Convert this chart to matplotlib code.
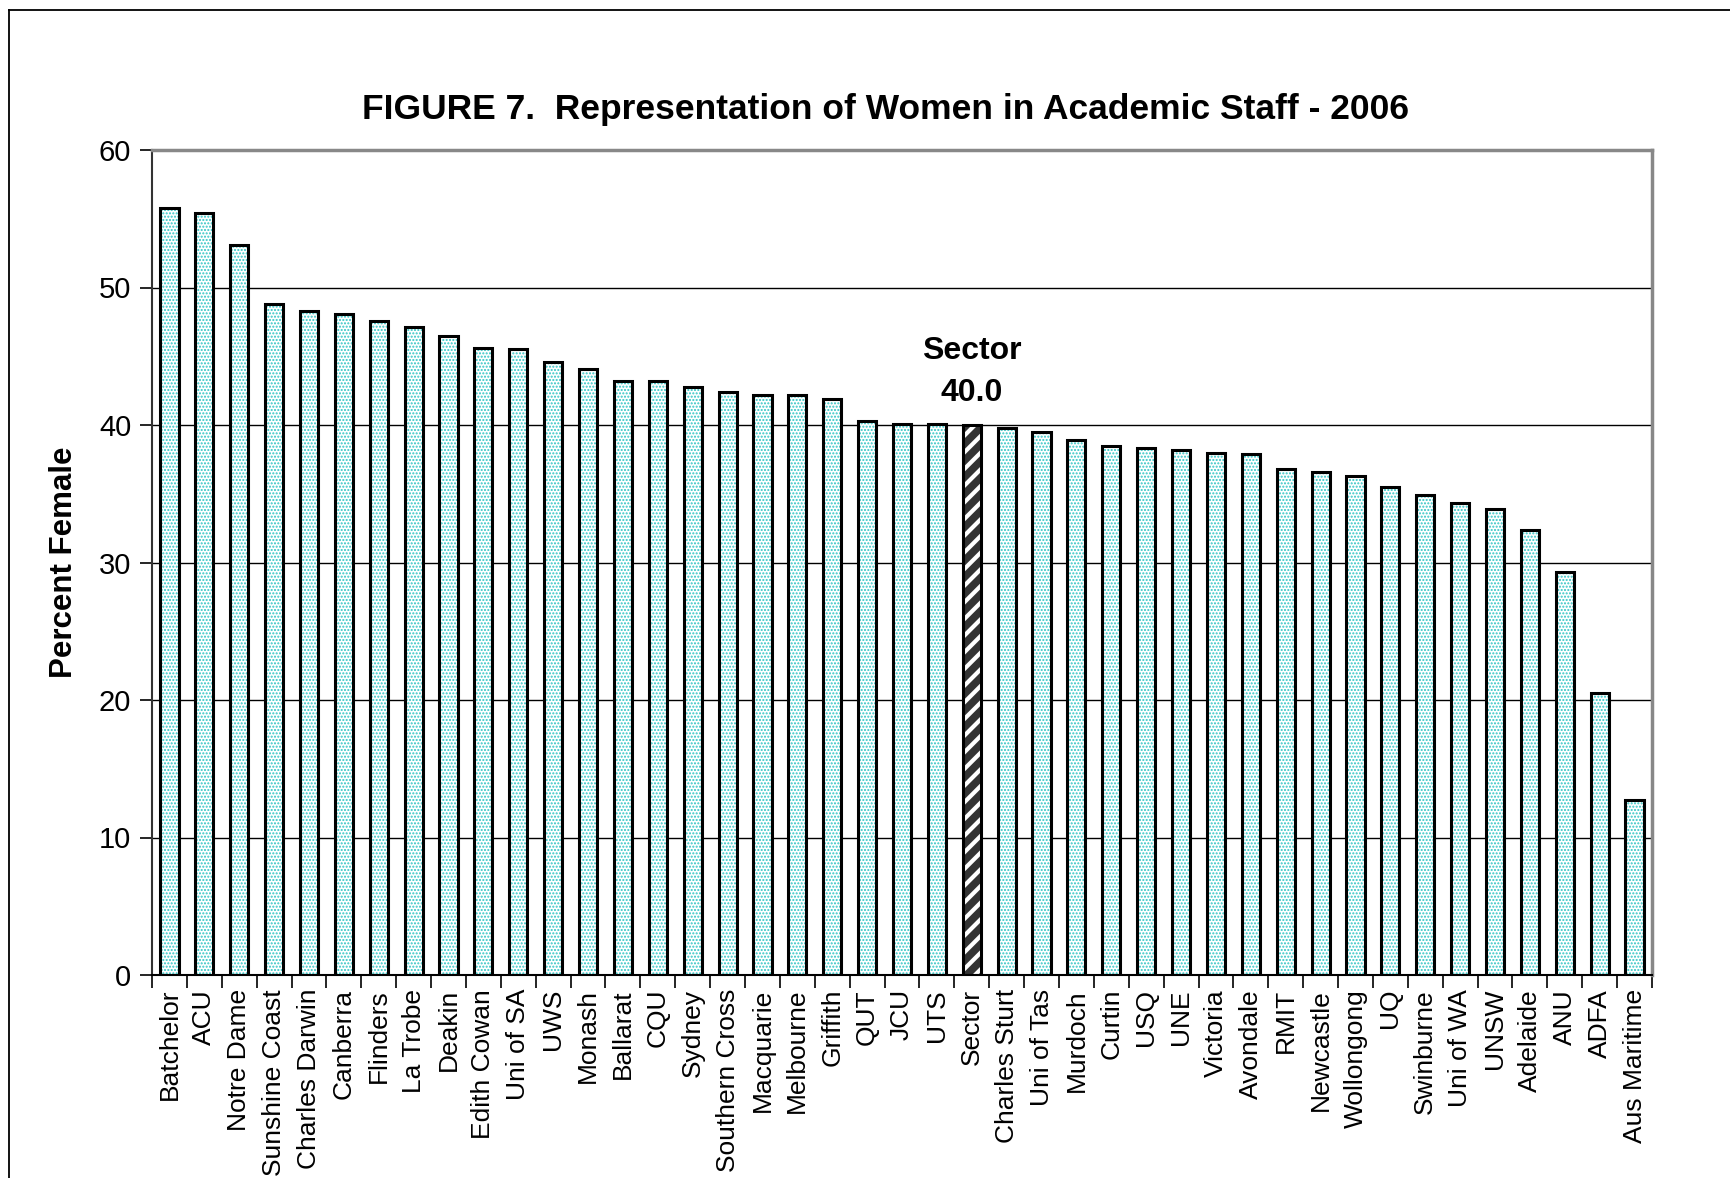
import numpy as np
import matplotlib.pyplot as plt
from matplotlib.lines import Line2D

# valeurs
universities = ["Batchelor", "ACU", "Notre Dame", "Sunshine Coast", "Charles Darwin",
                "Canberra", "Flinders", "La Trobe", "Deakin", "Edith Cowan", "Uni of SA",
                "UWS", "Monash", "Ballarat", "CQU", "Sydney", "Southern Cross", "Macquarie",
                "Melbourne", "Griffith", "QUT", "JCU", "UTS", "Sector", "Charles Sturt",
                "Uni of Tas", "Murdoch", "Curtin", "USQ", "UNE", "Victoria", "Avondale",
                "RMIT", "Newcastle", "Wollongong", "UQ", "Swinburne", "Uni of WA", "UNSW",
                "Adelaide", "ANU", "ADFA", "Aus Maritime"]
pct_female = [55.8, 55.4, 53.1, 48.8, 48.3, 48.1, 47.6, 47.1, 46.5, 45.6, 45.5,
              44.6, 44.1, 43.2, 43.2, 42.8, 42.4, 42.2, 42.2, 41.9, 40.3, 40.1, 40.1,
              40.0, 39.8, 39.5, 38.9, 38.5, 38.3, 38.2, 38.0, 37.9, 36.8, 36.6, 36.3,
              35.5, 34.9, 34.3, 33.9, 32.4, 29.3, 20.5, 12.7]
sector_name = "Sector"
yticks = [0, 10, 20, 30, 40, 50, 60]

plt.rcParams['font.family'] = ['Liberation Sans', 'DejaVu Sans']
plt.rcParams['hatch.linewidth'] = 1.0

fig = plt.figure(figsize=(17.3, 11.78), dpi=100)
ax = fig.add_axes([152 / 1730, 1 - 975 / 1178, 1500 / 1730, 825 / 1178])

x = np.arange(len(universities))
vals = np.array(pct_female)
is_sector = np.array([u == sector_name for u in universities])

ax.set_axisbelow(True)
ax.grid(axis='y', color='black', linewidth=1.0)

# barres pointillées cyan
ax.bar(x[~is_sector], vals[~is_sector], width=0.52, color='white',
       edgecolor='#30c4c4', hatch='.....', linewidth=0, zorder=2)
# barre du secteur, rayée
plt.rcParams['hatch.linewidth'] = 3.0
ax.bar(x[is_sector], vals[is_sector], width=0.52, color='#333333',
       edgecolor='white', hatch='//', linewidth=0, zorder=2)
# contours
ax.bar(x, vals, width=0.52, fill=False, edgecolor='black', linewidth=2.2, zorder=3)

si = int(np.argmax(is_sector))
ax.text(x[si], vals[si] + 1.25, f"Sector\n{vals[si]:.1f}", ha='center', va='bottom',
        fontsize=23, fontweight='bold', linespacing=1.5)

ax.set_xlim(-0.5, len(universities) - 0.5)
ax.set_ylim(0, 60)
ax.set_yticks(yticks)
ax.tick_params(axis='y', labelsize=21, length=9, width=1.2, direction='out', pad=6)
ax.set_xticks(x)
ax.set_xticklabels(universities, rotation=90, fontsize=19)
ax.tick_params(axis='x', length=0, pad=10)
ax.set_xticks(np.arange(len(universities) + 1) - 0.5, minor=True)
ax.tick_params(axis='x', which='minor', length=9, width=1.2, direction='out')

for side in ['top', 'right']:
    ax.spines[side].set_color('#888888')
    ax.spines[side].set_linewidth(2.5)
ax.spines['left'].set_color('#333333')
ax.spines['left'].set_linewidth(1.5)
ax.spines['bottom'].set_color('black')
ax.spines['bottom'].set_linewidth(1.5)

ax.set_ylabel("Percent Female", fontsize=22.5, fontweight='bold', labelpad=14)

fig.text(886 / 1730, 1 - 110 / 1178, "FIGURE 7.  Representation of Women in Academic Staff - 2006",
         ha='center', va='center', fontsize=25.5, fontweight='bold')

# cadre extérieur (gauche et haut)
fig.add_artist(Line2D([9 / 1730, 9 / 1730], [0, 1 - 10 / 1178], transform=fig.transFigure,
                      color='black', linewidth=1.3))
fig.add_artist(Line2D([9 / 1730, 1], [1 - 10 / 1178, 1 - 10 / 1178], transform=fig.transFigure,
                      color='black', linewidth=1.3))

fig.savefig("out.png", dpi=100)
